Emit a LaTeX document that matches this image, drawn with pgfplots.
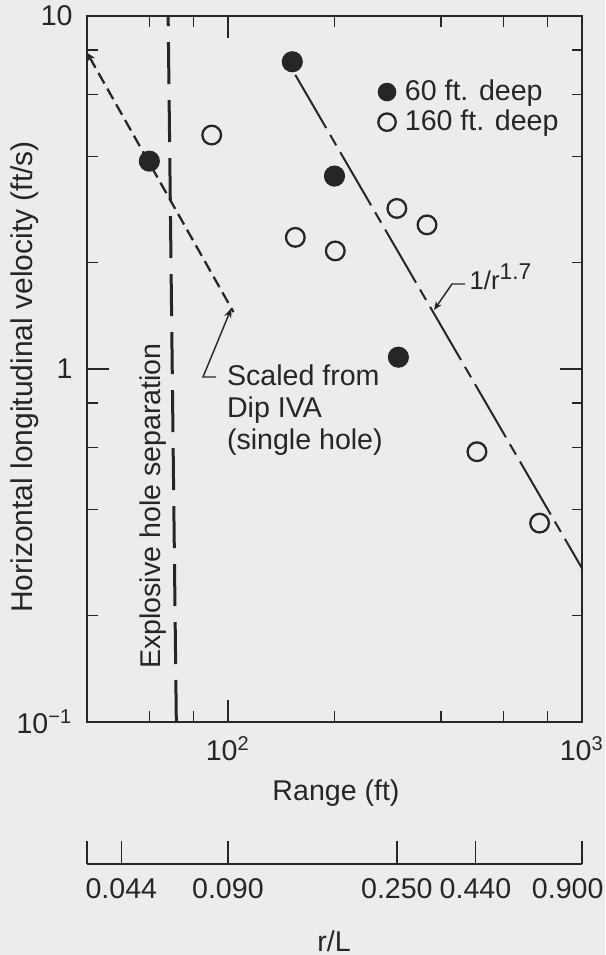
\documentclass[border=0pt]{standalone}
\usepackage{fontspec}
\setmainfont{Liberation Sans}
\usepackage{pgfplots}
\pgfplotsset{compat=1.18}
\usetikzlibrary{arrows.meta}

\definecolor{paper}{RGB}{236,236,236}
\definecolor{ink}{RGB}{38,38,38}

\begin{document}
\begin{tikzpicture}[font=\fontsize{10}{12}\selectfont, color=ink]
% page area, with the corner of the main axis at the origin
\path[use as bounding box, fill=paper] (-30.45pt,-81.55pt) rectangle (181.3pt,252.7pt);

% ---------------- main log-log axis ----------------
\begin{axis}[
  at={(0pt,0pt)}, anchor=south west,
  scale only axis, width=173.25pt, height=247.1pt,
  xmode=log, ymode=log,
  xmin=40, xmax=1000, ymin=0.1, ymax=10,
  axis line style={ink, line width=0.6pt},
  every tick/.style={ink, line width=0.5pt},
  tick align=inside,
  major tick length=7.8pt, minor tick length=3.7pt,
  xtick={100,1000}, xticklabels={10\textsuperscript{2},10\textsuperscript{3}},
  ytick={0.1,1,10}, yticklabels={10\textsuperscript{−1},1,10},
  minor xtick={60,80,200,400,600,800},
  minor ytick={0.2,0.4,0.6,0.8,2,4,6,8},
  tick label style={font=\fontsize{10}{12}\selectfont, text=ink},
  xticklabel style={yshift=-1.5pt},
  yticklabel style={xshift=-1.5pt},
  legend style={draw=none, fill=none, inner sep=0pt, outer sep=0pt,
    at={(0.5885,0.910)}, anchor=north west, row sep=1.8pt, column sep=3.2pt,
    font=\fontsize{10}{12}\selectfont, nodes={inner sep=0pt, text=ink}},
  legend cell align=left,
  legend image code/.code={\draw[#1, mark size=3.05pt] plot coordinates {(0pt,0pt)};},
  clip=false,
]
% scaled Dip IVA single-hole curve
\addplot[forget plot, ink, line width=0.8pt, dash pattern=on 4.2pt off 2.1pt,
  {Stealth[length=3pt,width=3pt]}-] coordinates {(40,7.87) (103.7,1.45)};
% explosive hole separation
\addplot[forget plot, ink, line width=1.05pt, dash pattern=on 14.7pt off 5.6pt]
  coordinates {(71.5,0.1) (67.8,10)};
% 1/r^1.7 decay
\addplot[forget plot, ink, line width=0.7pt,
  dash pattern=on 21.5pt off 2.8pt on 4.2pt off 2.8pt]
  coordinates {(155,6.81) (1000,0.2725)};

\addplot[only marks, mark=*, mark size=3.5pt, ink]
  coordinates {(60,3.88) (152,7.42) (200,3.52) (303,1.08)};
\addlegendentry{60 ft. deep}
\addplot[only marks, mark=o, mark size=3.27pt, mark options={line width=0.8pt}, ink]
  coordinates {(90,4.6) (155,2.36) (201,2.16) (300,2.85) (365,2.56) (505,0.583) (759,0.366)};
\addlegendentry{160 ft. deep}
\end{axis}

% ---------------- r/L scale ----------------
\begin{axis}[
  at={(0pt,-49.7pt)}, anchor=south west,
  scale only axis, width=173.25pt, height=10pt,
  xmode=log, xmin=40, xmax=1000, ymin=0, ymax=1,
  axis x line*=bottom, axis y line=none,
  axis line style={ink, line width=0.6pt},
  every tick/.style={ink, line width=0.5pt},
  tick align=inside, major tick length=8pt, minor tick length=0pt,
  xtick={40,50,100,300,500,1000},
  xticklabels={,0.044,0.090,0.250,0.440,\hspace*{-10pt}0.900},
  tick label style={font=\fontsize{10}{12}\selectfont, text=ink},
  xticklabel style={yshift=-1.5pt},
]
\end{axis}

% ---------------- labels and notes ----------------
\begin{scope}[x=0.35pt, y=-0.35pt, shift={(-87,-722)}]
  \node[rotate=90, font=\fontsize{10.5}{12}\selectfont] at (25,377)
    {Horizontal longitudinal velocity (ft/s)};
  \node at (336,793) {Range (ft)};
  \node at (334,941) {r/L};
  \node[rotate=90] at (153,506) {Explosive hole separation};
  \node[anchor=west, align=left, inner sep=0pt, font=\fontsize{10}{11.2}\selectfont]
    at (226.5,410) {Scaled from\\Dip IVA\\(single hole)};
  \draw[line width=0.5pt, -{Stealth[length=3.5pt,width=2.6pt]}]
    (216,377) -- (203,377) -- (231.5,308);
  \node[anchor=base west, inner sep=0pt] at (469,290)
    {\fontsize{9}{10}\selectfont 1/r\raisebox{0.8ex}{\fontsize{8}{9}\selectfont 1.7}};
  \draw[line width=0.5pt, -{Stealth[length=3pt,width=2.4pt]}]
    (465,284) -- (452,284) -- (434,310);
\end{scope}
\end{tikzpicture}
\end{document}
